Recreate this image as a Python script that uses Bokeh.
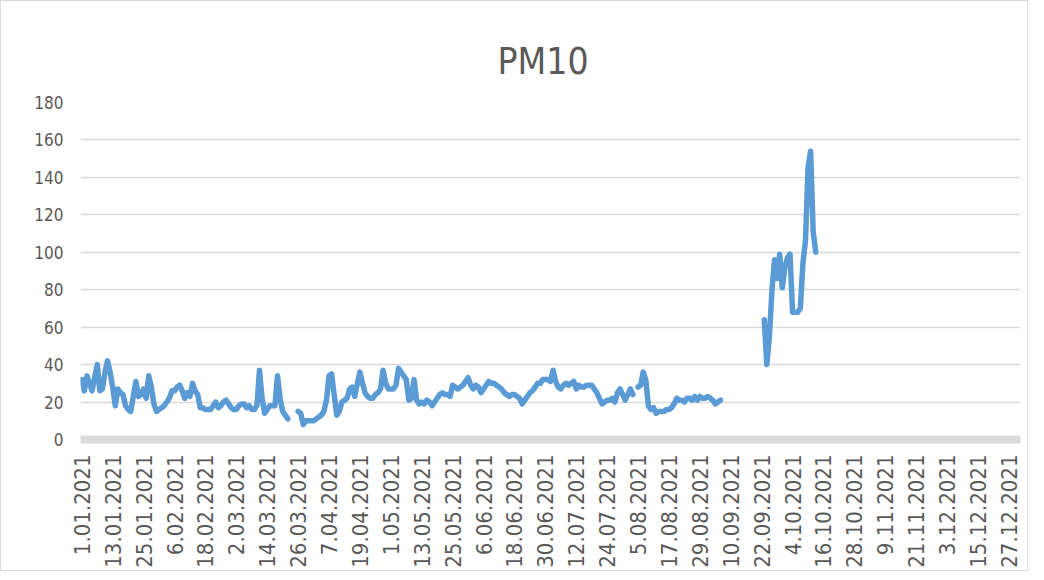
import math
import pandas as pd
from bokeh.plotting import figure
from bokeh.models import Range1d, FixedTicker, ColumnDataSource
from bokeh.embed import file_html
from bokeh.resources import INLINE

# ---- data -------------------------------------------------------------
dates = pd.date_range("2021-01-01", "2021-12-31", freq="D")
date_labels = [f"{d.day}.{d.month:02d}.{d.year}" for d in dates]

# daily PM10, 1 Jan .. 6 Sep (None = no measurement)
pm10_jan_sep = [
    32, 26, 34, 30, 26, 33, 40, 26, 27, 36,
    42, 36, 28, 18, 27, 25, 24, 18, 16, 15,
    23, 31, 23, 24, 27, 22, 34, 28, 19, 15,
    16, 17, 18, 20, 22, 26, 26, 28, 29, 26,
    22, 25, 23, 30, 26, 24, 17, 17, 16, 16,
    16, 18, 20, 17, 18, 20, 21, 19, 17, 16,
    16, 18, 19, 19, 17, 18, 16, 16, 18, 37,
    22, 14, 16, 18, 18, 18, 34, 22, 15, 13,
    11, None, None, None, 15, 14, 8, 10, 10, 10,
    10, 11, 12, 13, 15, 21, 34, 35, 24, 13,
    15, 20, 21, 22, 27, 28, 23, 30, 36, 30,
    25, 23, 22, 22, 24, 25, 27, 37, 30, 27,
    27, 27, 29, 38, 36, 34, 32, 21, 22, 32,
    21, 19, 20, 19, 21, 20, 18, 20, 22, 24,
    25, 24, 24, 23, 29, 28, 27, 28, 29, 31,
    33, 29, 27, 29, 28, 25, 27, 29, 31, 30,
    30, 29, 28, 27, 25, 24, 23, 24, 24, 23,
    22, 19, 21, 23, 25, 26, 28, 30, 30, 32,
    32, 32, 31, 37, 31, 28, 27, 29, 30, 29,
    30, 31, 27, 29, 28, 28, 29, 29, 29, 27,
    25, 22, 19, 20, 21, 21, 22, 20, 25, 27,
    24, 21, 24, 27, 24, None, 28, 29, 36, 32,
    18, 16, 17, 14, 15, 15, 15, 16, 16, 17,
    19, 22, 21, 21, 20, 22, 22, 21, 23, 21,
    23, 22, 22, 23, 22, 21, 19, 20, 21,
]
# daily PM10, 23 Sep .. 13 Oct
pm10_sep_oct = [64, 40, 55, 80, 96, 86, 99, 81, 92, 97, 99,
                68, 68, 68, 70, 94, 106, 145, 154, 111, 100]

pm10 = pm10_jan_sep + [None] * 16 + pm10_sep_oct
pm10 = pm10 + [None] * (len(dates) - len(pm10))
pm10 = [float("nan") if v is None else v for v in pm10]

y_ticks = list(range(0, 181, 20))
title_text = "PM10"

# ---- figure -----------------------------------------------------------
idx = list(range(len(dates)))
src = ColumnDataSource(dict(x=idx, y=pm10))

FONT = "DejaVu Sans Condensed, sans-serif"
GREY_TXT = "#595959"

p = figure(frame_width=940, frame_height=337, output_backend="svg",
           toolbar_location=None,
           x_range=Range1d(-0.5, len(dates) - 0.5), y_range=Range1d(0, 180),
           min_border_left=79, min_border_right=7, min_border_top=101,
           min_border_bottom=128)
p.styles = {"border": "1px solid #d9d9d9"}

p.title.text = title_text
p.title.align = "left"
p.title.vertical_align = "middle"
p.title.text_font = FONT
p.title.text_font_size = "37px"
p.title.text_font_style = "normal"
p.title.text_color = GREY_TXT
p.title.offset = 417
p.title.standoff = 38

p.line("x", "y", source=src, line_color="#5b9bd5", line_width=5.5,
       line_join="round", line_cap="round")

p.outline_line_color = None
p.xgrid.grid_line_color = None
p.ygrid.grid_line_color = "#d9d9d9"
p.ygrid.grid_line_width = 1.5

p.yaxis.ticker = FixedTicker(ticks=y_ticks)
p.yaxis.axis_line_color = None
p.yaxis.major_tick_line_color = None
p.yaxis.minor_tick_line_color = None
p.yaxis.major_tick_out = 0
p.yaxis.major_tick_in = 0
p.yaxis.minor_tick_out = 0
p.yaxis.major_label_standoff = 17
p.yaxis.major_label_text_font = FONT
p.yaxis.major_label_text_font_size = "17px"
p.yaxis.major_label_text_color = GREY_TXT

tick_idx = list(range(0, len(dates), 12))
p.xaxis.ticker = FixedTicker(ticks=tick_idx)
p.xaxis.major_label_overrides = {i: date_labels[i] for i in tick_idx}
p.xaxis.major_label_orientation = math.pi / 2
p.xaxis.axis_line_color = "#d9d9d9"
p.xaxis.axis_line_width = 8
p.xaxis.major_tick_line_color = None
p.xaxis.minor_tick_line_color = None
p.xaxis.major_tick_out = 0
p.xaxis.major_tick_in = 0
p.xaxis.minor_tick_out = 0
p.xaxis.major_label_standoff = 15
p.xaxis.major_label_text_font = FONT
p.xaxis.major_label_text_font_size = "22px"
p.xaxis.major_label_text_color = GREY_TXT

open("out.html", "w").write(file_html(p, INLINE))
